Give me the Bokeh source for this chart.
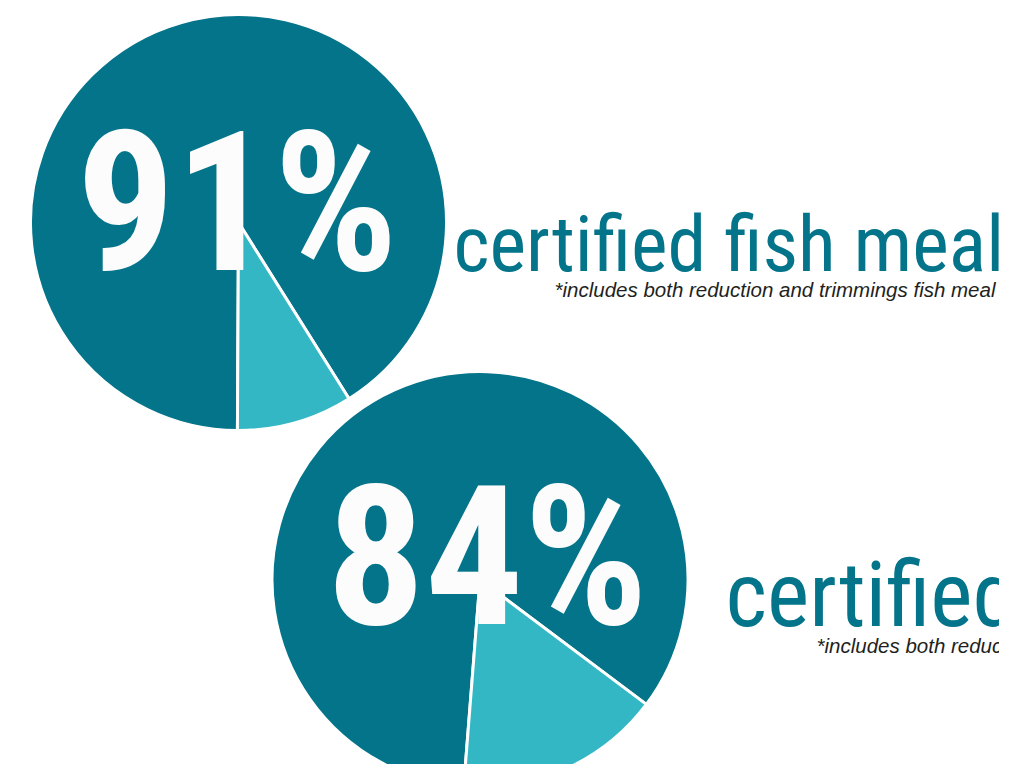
import math
from bokeh.plotting import figure
from bokeh.models import Range1d, ColumnDataSource
from bokeh.core.properties import value
from bokeh.embed import file_html
from bokeh.resources import INLINE

# ---- data ----
percent_certified = [91, 84]
percent_labels = ["91%", "84%"]
headings = ["certified fish meal", "certified fish oil"]
notes = ["*includes both reduction and trimmings fish meal",
         "*includes both reduction and trimmings fish oil"]

# ---- layout (reference pixel coordinates, y downward) ----
PAGE_H = 780
centers_x = [238.0, 479.5]
centers_y = [222.0, 579.0]
radius = 208.0
slice_start_deg = [-90.3, -94.5]

BASE_SHIFT = 0.358  # renderer places the baseline this many em lower

num_size = 195
num_x = [76, 326]
num_y = [273, 627]
head_x = [453, 725]
head_y = [272, 627]
head_size = [78, 90]
note_size = 20.5
note_x = [554, 816]
note_y = [296, 652]

DARK = "#037489"
LIGHT = "#34B7C4"
HEAD_FONT = "Roboto Condensed"

W, H = 999, 764
p = figure(width=W, height=H, output_backend="svg", toolbar_location=None,
           x_range=Range1d(0, W), y_range=Range1d(PAGE_H - H, PAGE_H),
           min_border=0, min_border_left=0, min_border_right=0,
           min_border_top=0, min_border_bottom=0)
p.axis.visible = False
p.grid.visible = False
p.outline_line_color = None
p.background_fill_color = "white"
p.border_fill_color = "white"


def ty(y_ref, size):
    return PAGE_H - (y_ref - BASE_SHIFT * size)


cy = [PAGE_H - y for y in centers_y]

# wedges
light_start, light_end, dark_start, dark_end = [], [], [], []
for pct, s in zip(percent_certified, slice_start_deg):
    span = (100 - pct) / 100.0 * 360.0
    a0 = math.radians(s)
    a1 = math.radians(s + span)
    light_start.append(a0)
    light_end.append(a1)
    dark_start.append(a1)
    dark_end.append(a0 + 2 * math.pi)

dark_src = ColumnDataSource(dict(x=centers_x, y=cy, s=dark_start, e=dark_end))
light_src = ColumnDataSource(dict(x=centers_x, y=cy, s=light_start, e=light_end))

p.wedge(x="x", y="y", radius=radius, start_angle="s", end_angle="e", source=dark_src,
        fill_color=DARK, line_color="white", line_width=3)
p.wedge(x="x", y="y", radius=radius, start_angle="s", end_angle="e", source=light_src,
        fill_color=LIGHT, line_color="white", line_width=3)

# big percentages
p.text(x=num_x, y=[ty(y, num_size) for y in num_y], text=percent_labels,
       text_font=value(HEAD_FONT), text_font_size=f"{num_size}px",
       text_font_style="bold", text_color="#FCFCFC",
       text_align="left", text_baseline="alphabetic")

# headings
head_src = ColumnDataSource(dict(x=head_x, y=[ty(y, s) for y, s in zip(head_y, head_size)],
                                 t=headings, fs=[f"{s}px" for s in head_size]))
p.text(x="x", y="y", text="t", source=head_src,
       text_font=value(HEAD_FONT), text_font_size="fs",
       text_color=DARK, text_align="left", text_baseline="alphabetic")

# notes
p.text(x=note_x, y=[ty(y, note_size) for y in note_y], text=notes,
       text_font=value("Liberation Sans"), text_font_size=f"{note_size}px",
       text_font_style="italic", text_color="#231F20",
       text_align="left", text_baseline="alphabetic")

open("out.html", "w").write(file_html(p, INLINE))
